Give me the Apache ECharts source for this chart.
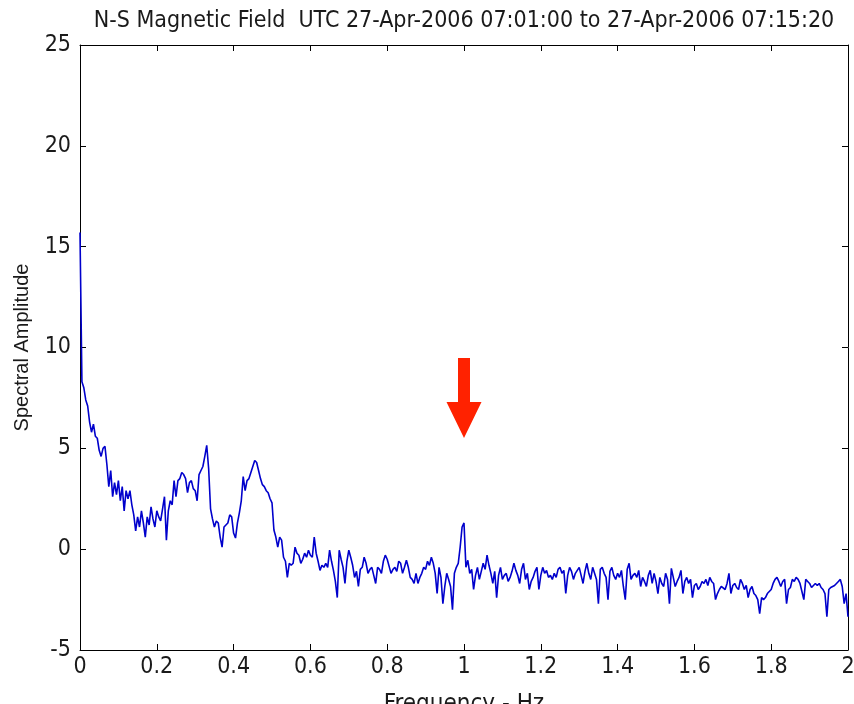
<!DOCTYPE html>
<html>
<head>
<meta charset="utf-8">
<script src="https://cdn.jsdelivr.net/npm/echarts@6/dist/echarts.min.js"></script>
<style>
  html, body { margin: 0; padding: 0; background: #fff; overflow: hidden; }
  #chart { width: 854px; height: 704px; }
</style>
</head>
<body>
<div id="chart"></div>
<script>
// Spectrum of the N-S magnetic field, sampled every 0.005 Hz from 0 to 2 Hz
const freqStart = 0;
const freqStep = 0.005;
const amplitude = [
  15.7, 8.3, 8.0, 7.4, 7.1, 6.3, 5.8, 6.2, 5.6, 5.5,
  4.9, 4.6, 5.0, 5.1, 4.2, 3.1, 3.9, 2.6, 3.3, 2.7,
  3.4, 2.4, 3.1, 1.9, 2.9, 2.5, 2.9, 2.2, 1.7, 0.9,
  1.6, 1.1, 1.9, 1.3, 0.6, 1.6, 1.2, 2.1, 1.5, 1.1,
  1.9, 1.6, 1.4, 2.0, 2.6, 0.45, 1.9, 2.4, 2.2, 3.4,
  2.6, 3.4, 3.5, 3.8, 3.7, 3.5, 2.8, 3.3, 3.4, 3.0,
  2.9, 2.4, 3.7, 3.9, 4.1, 4.6, 5.15, 4.0, 2.0, 1.5,
  1.1, 1.4, 1.3, 0.6, 0.1, 1.1, 1.2, 1.3, 1.7, 1.6,
  0.8, 0.55, 1.3, 1.8, 2.4, 3.6, 2.9, 3.4, 3.5, 3.8,
  4.1, 4.4, 4.3, 3.9, 3.5, 3.2, 3.1, 2.9, 2.8, 2.5,
  2.3, 0.95, 0.6, 0.1, 0.6, 0.45, -0.4, -0.6, -1.4, -0.7,
  -0.8, -0.7, 0.1, -0.2, -0.3, -0.7, -0.5, -0.2, -0.4, -0.05,
  -0.3, -0.4, 0.6, -0.2, -0.6, -1.05, -0.8, -0.9, -0.7, -0.9,
  -0.05, -0.6, -1.05, -1.6, -2.4, -0.05, -0.5, -0.9, -1.7, -0.6,
  -0.05, -0.4, -0.8, -1.4, -1.1, -1.85, -1.0, -0.9, -0.4, -0.7,
  -1.2, -1.0, -0.9, -1.3, -1.7, -0.9, -1.0, -1.2, -0.6, -0.3,
  -0.5, -0.55, -1.2, -1.0, -0.9, -1.1, -0.6, -0.7, -1.2, -0.9,
  -0.55, -0.9, -1.4, -1.5, -1.7, -1.2, -1.7, -1.4, -1.2, -0.9,
  -1.0, -0.6, -0.8, -0.4, -0.7, -1.2, -2.2, -0.9, -1.4, -2.7,
  -1.85, -1.2, -1.5, -1.85, -3.0, -1.2, -0.9, -0.7, 0.1, 1.1,
  1.3, -0.9, -0.55, -1.2, -1.0, -2.0, -1.3, -0.9, -1.5, -1.1,
  -0.7, -1.0, -0.3, -0.8, -1.2, -1.7, -1.1, -2.4, -1.3, -0.9,
  -1.5, -1.3, -1.2, -1.6, -1.4, -1.1, -0.7, -1.05, -1.3, -1.7,
  -1.0, -0.7, -1.5, -1.2, -2.0, -1.6, -1.4, -1.1, -0.9, -2.0,
  -1.3, -0.9, -1.2, -1.05, -1.4, -1.3, -1.5, -1.2, -1.4, -1.0,
  -0.9, -1.2, -1.05, -2.2, -1.3, -0.9, -1.1, -1.5, -1.2, -1.05,
  -0.9, -1.3, -1.7, -1.1, -0.7, -1.2, -1.5, -0.9, -1.2, -1.5,
  -2.7, -1.0, -0.9, -1.2, -1.4, -2.5, -1.1, -0.9, -1.3, -1.5,
  -1.2, -1.4, -1.05, -1.85, -2.5, -1.0, -0.7, -1.5, -1.3, -1.2,
  -1.4, -1.05, -1.85, -1.4, -1.6, -1.85, -1.3, -1.05, -1.7, -1.2,
  -1.6, -2.2, -1.4, -1.7, -1.85, -1.2, -1.5, -2.7, -0.95, -1.4,
  -1.85, -1.6, -1.4, -1.05, -2.2, -1.6, -1.4, -1.7, -1.5, -2.4,
  -1.8, -1.7, -2.0, -1.85, -1.6, -1.7, -1.5, -1.8, -1.4, -1.6,
  -1.7, -2.5, -2.2, -2.0, -1.85, -1.9, -2.0, -1.7, -1.2, -2.2,
  -1.8, -1.7, -1.9, -2.0, -1.5, -1.7, -2.0, -1.8, -2.4, -2.0,
  -1.85, -2.2, -2.3, -2.5, -3.2, -2.4, -2.5, -2.4, -2.2, -2.1,
  -2.0, -1.7, -1.5, -1.4, -1.6, -1.85, -1.6, -1.5, -2.7, -2.0,
  -1.9, -1.5, -1.6, -1.4, -1.5, -1.7, -2.1, -2.5, -1.5, -1.6,
  -1.7, -1.9, -1.85, -1.7, -1.8, -1.7, -1.9, -2.0, -2.2, -3.35,
  -2.0, -1.9, -1.85, -1.8, -1.7, -1.6, -1.5, -1.85, -2.7, -2.2,
  -3.35
];

// Axis ranges and tick spacing
const xMin = 0, xMax = 2, xTick = 0.2;
const yMin = -5, yMax = 25, yTick = 5;

// Annotation arrow pointing at the 1 Hz line
const arrowFreq = 1.0;
const arrowAmp = 7.5;

const titleText = 'N-S Magnetic Field  UTC 27-Apr-2006 07:01:00 to 27-Apr-2006 07:15:20';
const xName = 'Frequency - Hz';
const yName = 'Spectral Amplitude';

const points = amplitude.map((v, i) => [+(freqStart + i * freqStep).toFixed(3), v]);

const narrow = "'Liberation Sans Narrow', 'DejaVu Sans Condensed', 'Liberation Sans', sans-serif";
const textColor = '#1a1a1a';

const tickStyle = { show: true, inside: true, length: 6, lineStyle: { color: '#000', width: 1 } };
const lineStyle = { show: true, onZero: false, lineStyle: { color: '#000', width: 1 } };

const chart = echarts.init(document.getElementById('chart'), null, { renderer: 'canvas' });
chart.setOption({
  animation: false,
  backgroundColor: '#fff',
  title: {
    text: titleText,
    left: 459, textAlign: 'center',
    top: 5,
    textStyle: { fontFamily: narrow, fontSize: 23, fontWeight: 'normal', color: textColor }
  },
  grid: { left: 80, right: 6, top: 45, bottom: 54, containLabel: false, outerBoundsMode: 'none' },
  xAxis: [
    {
      type: 'value', min: xMin, max: xMax, interval: xTick,
      name: xName, nameLocation: 'middle', nameGap: 43,
      nameTextStyle: { fontFamily: narrow, fontSize: 24, color: textColor },
      axisLine: lineStyle, axisTick: tickStyle,
      axisLabel: { fontFamily: narrow, fontSize: 23, color: textColor, margin: 6 },
      splitLine: { show: false }
    },
    {
      type: 'value', min: xMin, max: xMax, interval: xTick, position: 'top',
      axisLine: lineStyle, axisTick: tickStyle,
      axisLabel: { show: false }, splitLine: { show: false }
    }
  ],
  yAxis: [
    {
      type: 'value', min: yMin, max: yMax, interval: yTick,
      name: yName, nameLocation: 'middle', nameGap: 48,
      nameTextStyle: { fontFamily: "'Liberation Sans', Arial, sans-serif", fontSize: 20, color: textColor },
      axisLine: lineStyle, axisTick: tickStyle,
      axisLabel: { fontFamily: narrow, fontSize: 23, color: textColor, margin: 9 },
      splitLine: { show: false }
    },
    {
      type: 'value', min: yMin, max: yMax, interval: yTick, position: 'right',
      axisLine: lineStyle, axisTick: tickStyle,
      axisLabel: { show: false }, splitLine: { show: false }
    }
  ],
  series: [
    {
      type: 'line',
      data: points,
      showSymbol: false,
      lineStyle: { color: '#0000cc', width: 1.6 },
      markPoint: {
        silent: true,
        symbol: 'path://M11.5,0 L23.5,0 L23.5,44 L35,44 L17.5,80 L0,44 L11.5,44 Z',
        symbolSize: [35, 80],
        symbolKeepAspect: false,
        itemStyle: { color: '#ff2200' },
        label: { show: false },
        data: [{ coord: [arrowFreq, arrowAmp] }]
      }
    }
  ]
});
</script>
</body>
</html>
